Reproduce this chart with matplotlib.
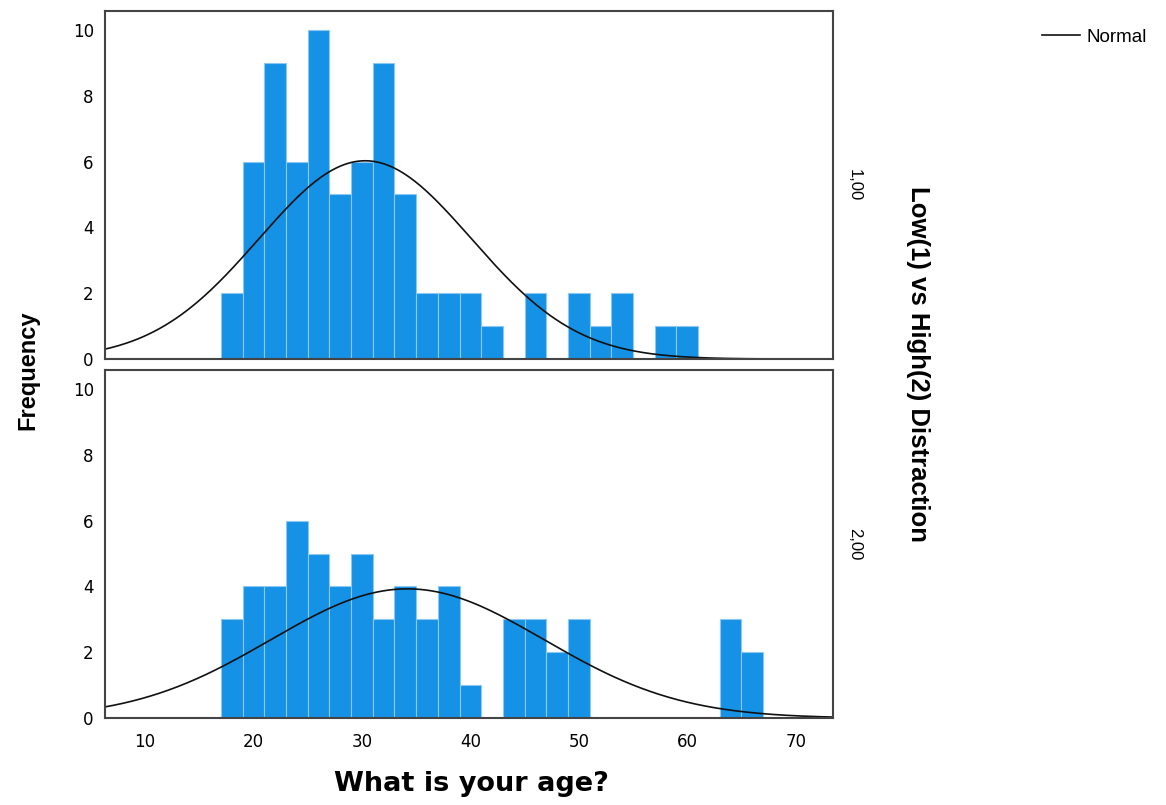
import numpy as np
import matplotlib
matplotlib.use("Agg")
import matplotlib.pyplot as plt
from matplotlib.lines import Line2D

# =========================
# DATA
# =========================
bin_start = 17
bin_width = 2

# counts per 2-year bin, starting at age 17
counts_low = [2, 6, 9, 6, 10, 5, 6, 9, 5, 2, 2, 2, 1, 0, 2, 0, 2, 1, 2, 0, 1, 1]
counts_high = [3, 4, 4, 6, 5, 4, 5, 3, 4, 3, 4, 1, 0, 3, 3, 2, 3, 0, 0, 0, 0, 0, 0, 3, 2]

# normal fit parameters (mean, sd)
mean_low, sd_low = 30.3, 9.8
mean_high, sd_high = 34.2, 12.6

group_labels = ["1,00", "2,00"]
xticks = [10, 20, 30, 40, 50, 60, 70]
yticks = [0, 2, 4, 6, 8, 10]

# =========================
# PLOT
# =========================
plt.rcParams['font.family'] = ['Liberation Sans', 'DejaVu Sans']

BAR_COLOR = '#1591e6'
EDGE_COLOR = '#8cc8f2'
SPINE_COLOR = '#444444'
TICK_FONT = dict(family='DejaVu Sans', size=12)

fig = plt.figure(figsize=(11.66, 8.05), dpi=100)
ax_top = fig.add_axes([0.090, 0.554, 0.624, 0.4325])
ax_bot = fig.add_axes([0.090, 0.108, 0.624, 0.4325])

xs = np.linspace(6.3, 73.4, 400)

for ax, counts, mu, sd, lab in [(ax_top, counts_low, mean_low, sd_low, group_labels[0]),
                                (ax_bot, counts_high, mean_high, sd_high, group_labels[1])]:
    lefts = bin_start + bin_width * np.arange(len(counts))
    ax.bar(lefts, counts, width=bin_width, align='edge', color=BAR_COLOR,
           edgecolor=EDGE_COLOR, linewidth=0.8, zorder=2)
    n = sum(counts)
    ys = n * bin_width / (sd * np.sqrt(2 * np.pi)) * np.exp(-(xs - mu) ** 2 / (2 * sd ** 2))
    ax.plot(xs, ys, color='#111111', linewidth=1.2, zorder=3)

    ax.set_xlim(6.3, 73.4)
    ax.set_ylim(0, 10.58)
    ax.set_yticks(yticks)
    ax.set_yticklabels([str(t) for t in yticks], fontdict=TICK_FONT)
    ax.tick_params(axis='y', length=0, pad=8)
    ax.tick_params(axis='x', length=0, pad=11)
    for sp in ax.spines.values():
        sp.set_color(SPINE_COLOR)
        sp.set_linewidth(1.5)
        sp.set_zorder(4)
    ax.text(1.03, 0.5, lab, transform=ax.transAxes, rotation=-90,
            ha='center', va='center', family='Liberation Sans', fontsize=12)

ax_top.set_xticks([])
ax_bot.set_xticks(xticks)
ax_bot.set_xticklabels([str(t) for t in xticks], fontdict=TICK_FONT)

fig.text(0.024, 0.54, "Frequency", rotation=90, ha='center', va='center',
         family='Liberation Sans', fontsize=17, fontweight='bold')
fig.text(0.787, 0.548, "Low(1) vs High(2) Distraction", rotation=-90, ha='center', va='center',
         family='Liberation Sans', fontsize=18.5, fontweight='bold')
fig.text(0.404, 0.026, "What is your age?", ha='center', va='center',
         family='DejaVu Sans', fontsize=19.5, fontweight='bold')

# legend
fig.legend(handles=[Line2D([0], [0], color='#111111', linewidth=1.2)], labels=["Normal"],
           loc='center left', bbox_to_anchor=(1042 / 1166, 1 - 37 / 805), frameon=False,
           prop=dict(family='Liberation Sans', size=13.5), handlelength=2.0, handletextpad=0.35,
           borderpad=0, borderaxespad=0)

fig.savefig("out.png", dpi=100)
